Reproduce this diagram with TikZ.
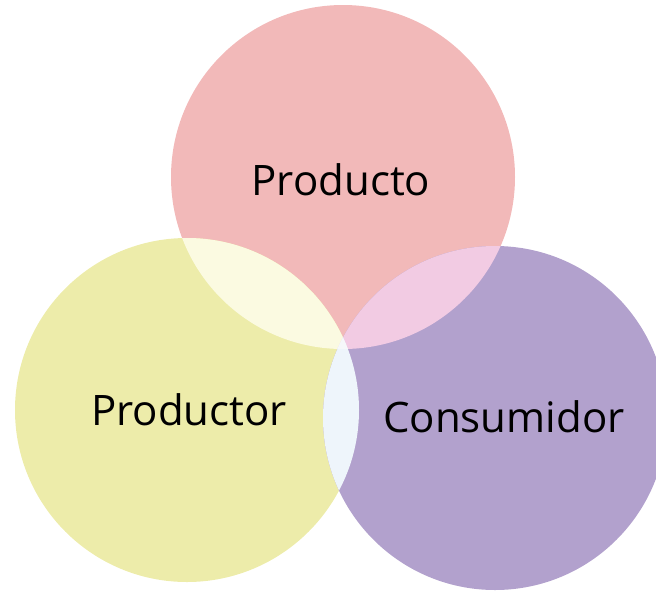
\documentclass[tikz,border=0pt]{standalone}
\usepackage{fontspec}
\setmainfont{Open Sans}
\definecolor{prodcol}{HTML}{F2B9B9}
\definecolor{prorcol}{HTML}{EDECAA}
\definecolor{conscol}{HTML}{B2A1CD}
\definecolor{pprcol}{HTML}{FBFAE1}
\definecolor{pcocol}{HTML}{F2CBE3}
\definecolor{rcocol}{HTML}{EEF5FB}
\definecolor{allcol}{HTML}{F6F8FA}
\tikzset{
    every node/.style={
        text=black
    }
}
\tikzstyle{venntext}=[font=\fontsize{42}{50}\selectfont, anchor=center]

\begin{document}
\begin{tikzpicture}[x=1pt, y=-1pt]
\useasboundingbox (0,0) rectangle (656,590);

\coordinate (Cprod) at (343,177);
\coordinate (Cpror) at (187,410);
\coordinate (Ccons) at (495,418);

\fill[prodcol] (Cprod) circle (172);
\fill[prorcol] (Cpror) circle (172);
\fill[conscol] (Ccons) circle (172);

\begin{scope}
\clip (Cprod) circle (172);
\fill[pprcol] (Cpror) circle (172);
\fill[pcocol] (Ccons) circle (172);
\end{scope}
\begin{scope}
\clip (Cpror) circle (172);
\fill[rcocol] (Ccons) circle (172);
\clip (Ccons) circle (172);
\fill[allcol] (Cprod) circle (172);
\end{scope}

\node[venntext] (Prod) at (341,180) {Producto};
\node[venntext] (Pror) at (189,410) {Productor};
\node[venntext] (Cons) at (504,417) {Consumidor};

\end{tikzpicture}
\end{document}
